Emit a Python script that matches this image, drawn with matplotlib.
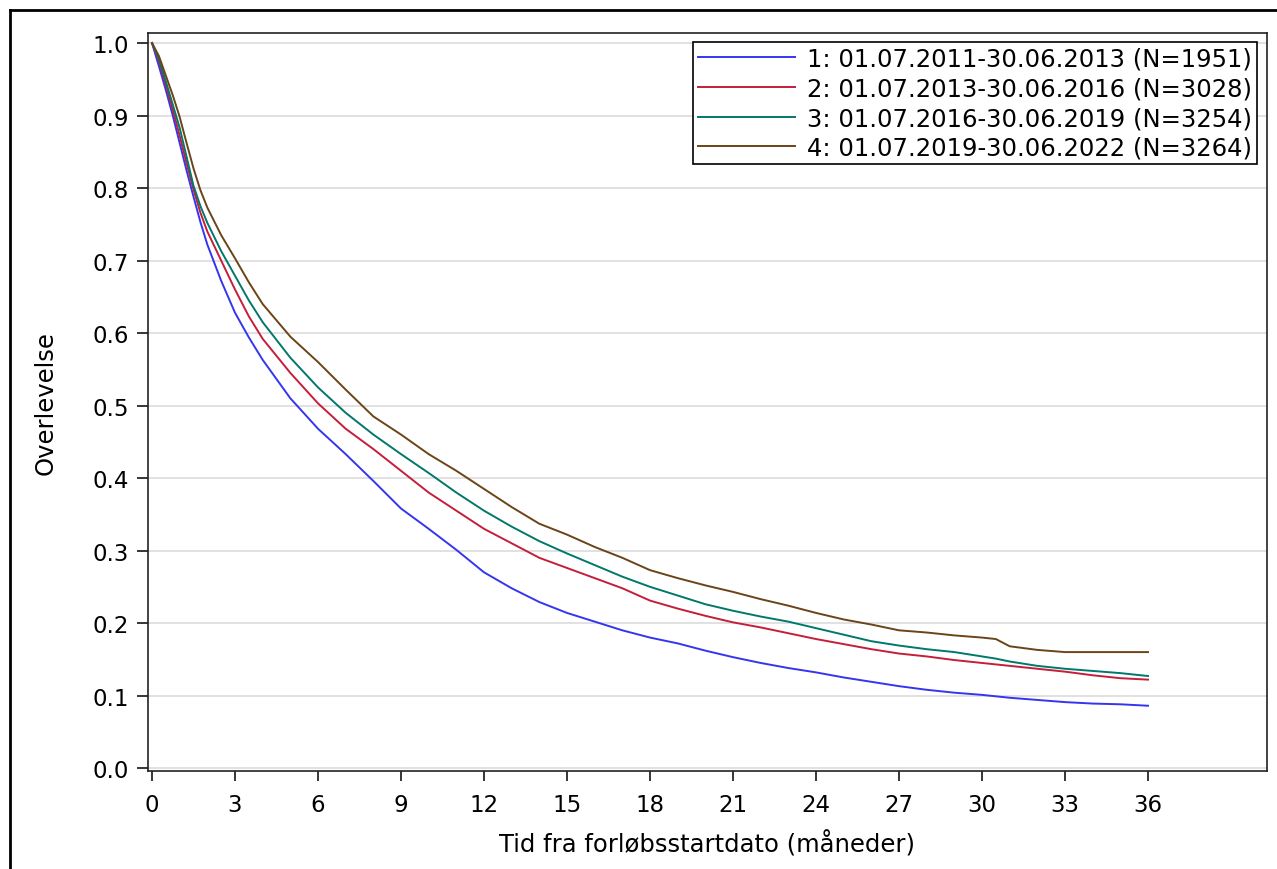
# Kaplan-Meier overlevelse per periode
import matplotlib
matplotlib.use("Agg")
import matplotlib.pyplot as plt
from matplotlib.lines import Line2D
from matplotlib.ticker import FormatStrFormatter

# Tid i måneder (felles for alle kurver)
MONTHS = [0, 0.25, 0.5, 0.75, 1, 1.25, 1.5, 1.75, 2, 2.5, 3, 3.5, 4, 5, 6,
          7, 8, 9, 10, 11, 12, 13, 14, 15, 16, 17, 18, 19, 20, 21, 22, 23,
          24, 25, 26, 27, 28, 29, 30, 30.5, 31, 32, 33, 34, 35, 36]

PERIOD_1 = [1.0, 0.968, 0.935, 0.9, 0.862, 0.824, 0.788, 0.753, 0.722, 0.672,
            0.628, 0.594, 0.563, 0.51, 0.468, 0.433, 0.396, 0.358, 0.33,
            0.301, 0.27, 0.248, 0.229, 0.214, 0.202, 0.19, 0.18, 0.172, 0.162,
            0.153, 0.145, 0.138, 0.132, 0.125, 0.119, 0.113, 0.108, 0.104,
            0.101, 0.099, 0.097, 0.094, 0.091, 0.089, 0.088, 0.086]
PERIOD_2 = [1.0, 0.975, 0.942, 0.908, 0.872, 0.834, 0.798, 0.766, 0.74, 0.70,
            0.66, 0.623, 0.592, 0.545, 0.503, 0.468, 0.44, 0.41, 0.38, 0.355,
            0.33, 0.31, 0.29, 0.276, 0.262, 0.248, 0.231, 0.22, 0.21, 0.201,
            0.194, 0.186, 0.178, 0.171, 0.164, 0.158, 0.154, 0.149, 0.145,
            0.143, 0.141, 0.137, 0.133, 0.128, 0.124, 0.122]
PERIOD_3 = [1.0, 0.978, 0.947, 0.915, 0.883, 0.843, 0.803, 0.775, 0.752,
            0.713, 0.679, 0.645, 0.615, 0.566, 0.525, 0.49, 0.46, 0.433, 0.407,
            0.38, 0.355, 0.333, 0.313, 0.296, 0.28, 0.264, 0.25, 0.238, 0.226,
            0.217, 0.209, 0.202, 0.193, 0.184, 0.175, 0.169, 0.164, 0.16,
            0.154, 0.151, 0.147, 0.141, 0.137, 0.134, 0.131, 0.127]
PERIOD_4 = [1.0, 0.982, 0.955, 0.928, 0.898, 0.862, 0.827, 0.797, 0.773,
            0.735, 0.703, 0.67, 0.64, 0.595, 0.56, 0.522, 0.485, 0.46, 0.433,
            0.41, 0.385, 0.36, 0.337, 0.322, 0.305, 0.29, 0.273, 0.262, 0.252,
            0.243, 0.233, 0.224, 0.214, 0.205, 0.198, 0.19, 0.187, 0.183,
            0.18, 0.178, 0.168, 0.163, 0.16, 0.16, 0.16, 0.16]

LABELS = ["1: 01.07.2011-30.06.2013 (N=1951)",
          "2: 01.07.2013-30.06.2016 (N=3028)",
          "3: 01.07.2016-30.06.2019 (N=3254)",
          "4: 01.07.2019-30.06.2022 (N=3264)"]
COLORS = ["#3535f0", "#c41e3a", "#00786b", "#6b4418"]

X_TICKS = list(range(0, 37, 3))
Y_TICKS = [i / 10 for i in range(11)]


def main():
    fig = plt.figure(figsize=(12.77, 8.70), dpi=100)
    ax = fig.add_axes([148 / 1277, 1 - 772 / 870, 1119 / 1277, 738 / 870])

    # ytre ramme (kuttet i høyre og nedre kant)
    fig.add_artist(Line2D([9.5 / 1277, 9.5 / 1277], [0, 1 - 11 / 870],
                          transform=fig.transFigure, color="black", lw=2))
    fig.add_artist(Line2D([9.5 / 1277, 1.0], [1 - 11 / 870, 1 - 11 / 870],
                          transform=fig.transFigure, color="black", lw=2))

    for values, label, color in zip([PERIOD_1, PERIOD_2, PERIOD_3, PERIOD_4],
                                    LABELS, COLORS):
        ax.plot(MONTHS, values, color=color, lw=1.4, label=label, zorder=3)

    ax.set_xlim(-0.145, 40.3)
    ax.set_ylim(-0.004, 1.0138)
    ax.set_xticks(X_TICKS)
    ax.set_yticks(Y_TICKS)
    ax.yaxis.set_major_formatter(FormatStrFormatter("%.1f"))
    ax.yaxis.grid(True, color="#dcdcdc", lw=1.2, zorder=0)
    ax.set_axisbelow(True)

    ax.tick_params(axis="y", labelsize=16.5, length=8, width=1.1, pad=6)
    ax.tick_params(axis="x", labelsize=16.5, length=7, width=1.1, pad=9)
    for spine in ax.spines.values():
        spine.set_linewidth(1.2)
        spine.set_color("#222222")

    ax.set_xlabel("Tid fra forløbsstartdato (måneder)", fontsize=17.5)
    ax.set_ylabel("Overlevelse", fontsize=17.5)
    ax.xaxis.set_label_coords(0.4996, -0.080)
    ax.yaxis.set_label_coords(-0.081, 0.5)

    leg = ax.legend(loc="upper right", bbox_to_anchor=(0.9911, 0.9878),
                    borderaxespad=0, fontsize=17.5, handlelength=4.0,
                    handletextpad=0.5, borderpad=0.2, labelspacing=0.23,
                    fancybox=False, framealpha=1, edgecolor="black")
    leg.get_frame().set_linewidth(1.2)

    fig.savefig("out.png", dpi=100)


if __name__ == "__main__":
    main()
